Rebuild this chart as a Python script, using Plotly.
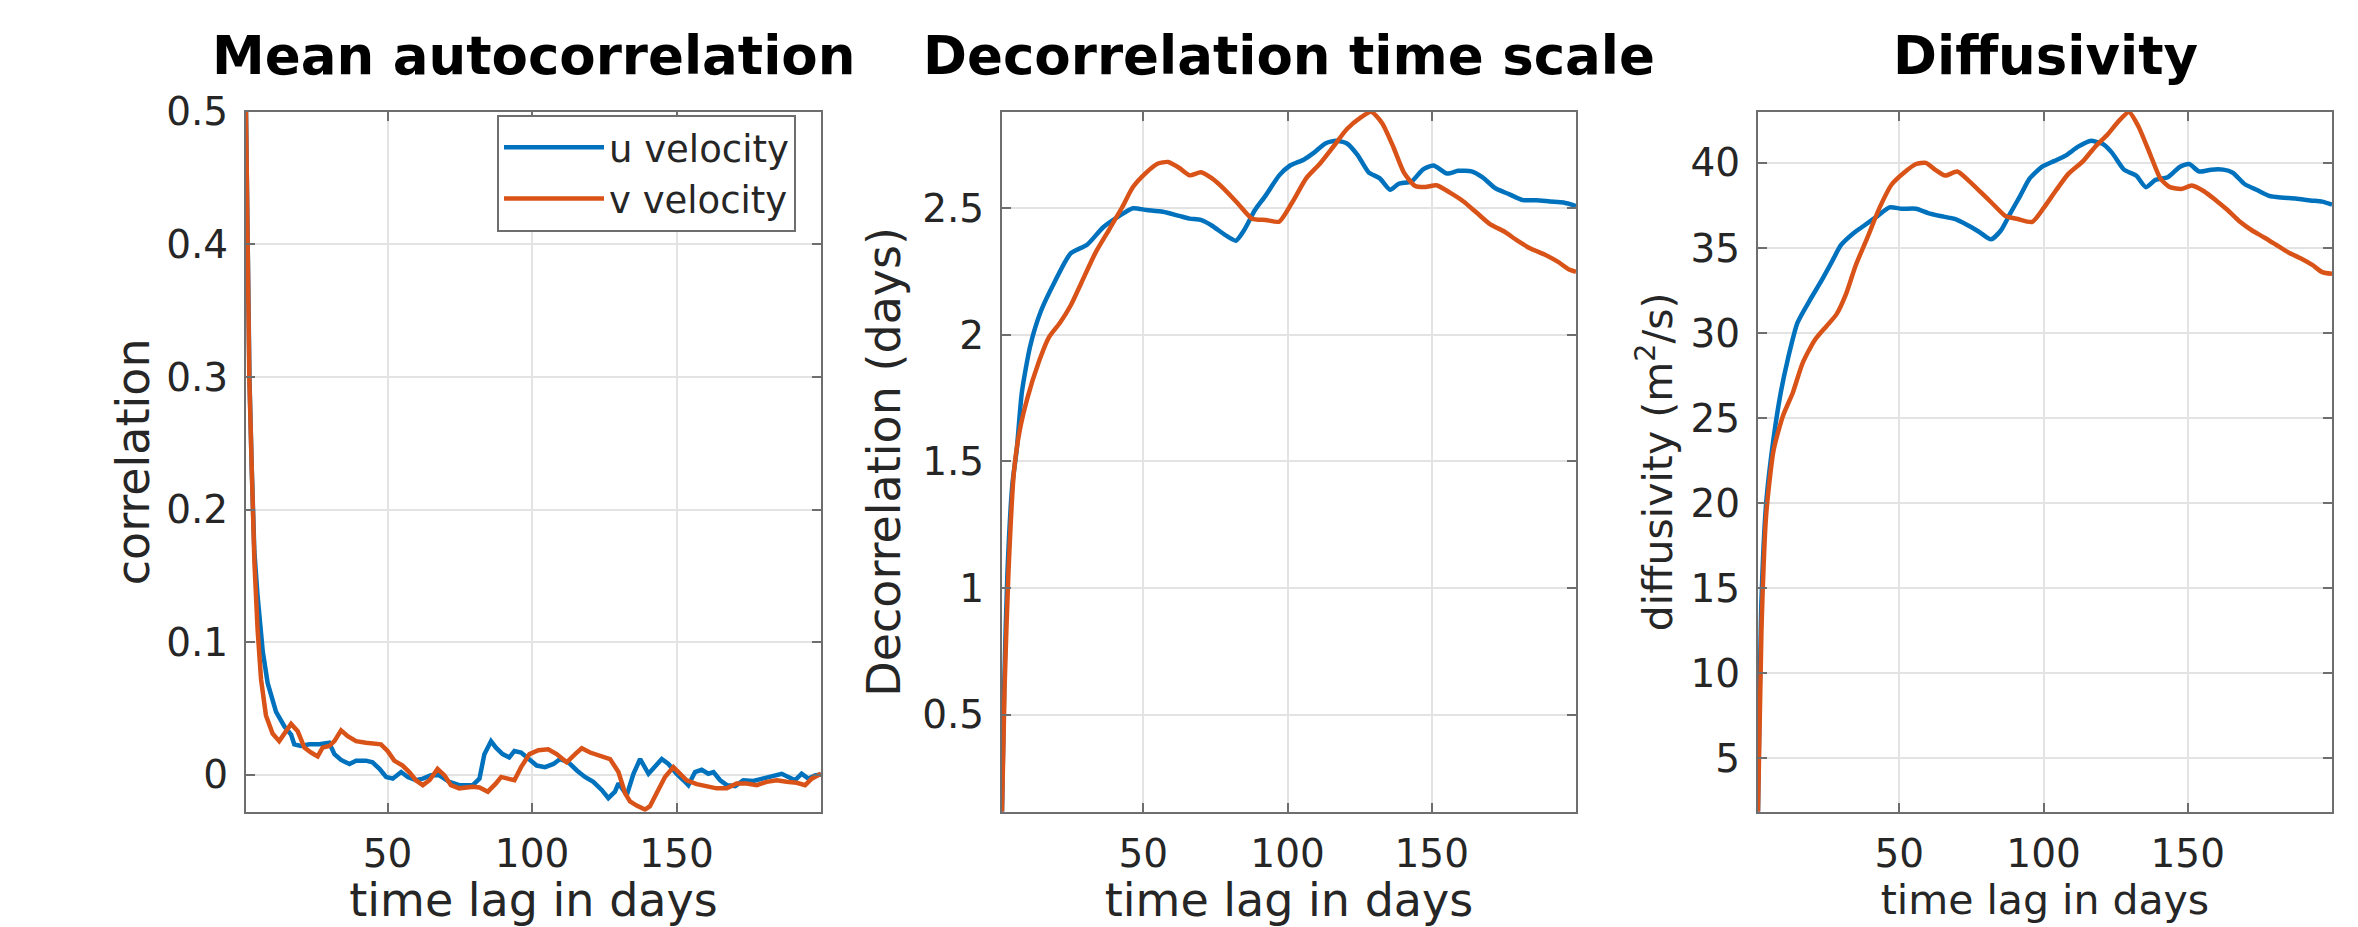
import plotly.graph_objects as go

# ---------------- data ----------------
# Panel 1: mean autocorrelation
ac_u_x = [1, 1.6, 2.2, 3, 3.9, 5, 6.8, 8.5, 9.1, 11.4, 14.3, 16.6, 17.7, 20.0, 22.9, 26.4, 29.8, 31.6, 33.9,
          36.8, 39.1, 42.5, 44.8, 47.2, 49.5, 51.8, 54.7, 57.0, 59.8, 62.2, 65.0, 67.9, 71.4, 74.8, 79.5,
          81.8, 83.5, 85.8, 87.5, 89.8, 92.1, 93.9, 96.2, 99.1, 101.6, 104.5, 107.4, 109.7, 112.6, 115.5,
          118.3, 121.2, 124.1, 126.4, 128.7, 129.9, 132.8, 135.1, 137.4, 140.3, 142.6, 144.9, 147.2, 150.0,
          152.4, 154.1, 156.4, 158.7, 161.0, 162.8, 165.1, 167.4, 170.3, 173.1, 176.6, 180.1, 183.5, 186.4,
          188.7, 191.0, 193.3, 195.6, 197.9, 200]
ac_u_y = [0.5, 0.368, 0.299, 0.23, 0.168, 0.135, 0.093, 0.069, 0.064, 0.0474, 0.0364, 0.0302, 0.0229, 0.0216,
          0.0229, 0.0229, 0.0241, 0.0155, 0.0111, 0.0081, 0.0106, 0.0106, 0.0093, 0.0044, -0.0017, -0.003,
          0.002, -0.0017, -0.0042, -0.003, -0.0005, -0.0005, -0.0054, -0.0079, -0.0079, -0.003, 0.0155,
          0.0253, 0.0204, 0.0155, 0.013, 0.0179, 0.0167, 0.0118, 0.0069, 0.0057, 0.0081, 0.0118, 0.0093,
          0.0032, -0.0017, -0.0054, -0.0115, -0.0177, -0.0128, -0.0066, -0.0152, 0.0007, 0.0118, 0.0007,
          0.0069, 0.0118, 0.0081, 0.0007, -0.0042, -0.0079, 0.002, 0.0037, 0.0007, 0.002, -0.0042, -0.0079,
          -0.0086, -0.0042, -0.0047, -0.003, -0.0005, 0.0007, -0.0017, -0.0042, 0.0007, -0.003, -0.0005, 0.0002]
ac_v_x = [1, 1.6, 2.15, 3, 3.9, 5, 6.2, 7.9, 10.2, 12.5, 14.3, 16.6, 18.9, 21.2, 23.5, 25.8, 27.5, 29.8, 31.6,
          33.9, 36.2, 39.1, 42.5, 47.7, 50.0, 52.3, 55.2, 57.5, 59.8, 62.2, 64.5, 67.3, 69.7, 71.9, 74.8,
          79.5, 81.8, 84.7, 87.5, 89.3, 91.6, 93.9, 96.2, 99.1, 102.2, 105.6, 108.5, 112.0, 114.9, 117.2,
          120.1, 123.5, 127.0, 129.9, 132.2, 133.9, 136.2, 139.1, 140.8, 143.1, 146.0, 148.9, 151.2, 153.5,
          157.0, 160.5, 163.9, 167.4, 170.8, 174.3, 177.8, 181.2, 184.7, 188.1, 191.6, 194.5, 196.8, 200]
ac_v_y = [0.5, 0.368, 0.299, 0.23, 0.161, 0.11, 0.072, 0.0447, 0.031, 0.0253, 0.0315, 0.0383, 0.0327, 0.0204,
          0.0167, 0.0138, 0.0204, 0.0216, 0.0253, 0.0334, 0.029, 0.0253, 0.0241, 0.0229, 0.0179, 0.0106,
          0.0069, 0.002, -0.0042, -0.0079, -0.0042, 0.0044, -0.0005, -0.0079, -0.0103, -0.0091, -0.0096,
          -0.0128, -0.0066, -0.0017, -0.003, -0.0042, 0.0057, 0.0155, 0.0184, 0.0192, 0.0155, 0.0093, 0.0155,
          0.0199, 0.0167, 0.0147, 0.0118, 0.002, -0.014, -0.0201, -0.0233, -0.0263, -0.0238, -0.014, -0.0017,
          0.0057, 0.0007, -0.0042, -0.0071, -0.0086, -0.0103, -0.0103, -0.0066, -0.0066, -0.0079, -0.0054,
          -0.0042, -0.0054, -0.0061, -0.0079, -0.003, 0.0007]

# Panel 2: decorrelation time scale (days)
dt_u_x = [1, 1.75, 2.9, 4.6, 6.1, 7.9, 10.8, 14.5, 19.2, 24.8, 30.5, 36.1, 41.7, 46.4, 51.1, 56.8, 62.4, 66.1,
          69.9, 73.7, 78.3, 82.1, 84.9, 88.7, 92.4, 97.1, 100.9, 105.6, 109.3, 113.1, 116.8, 120.6, 124.3,
          128.1, 131.9, 135.6, 138.4, 143.1, 146.9, 150.6, 155.3, 159.1, 163.8, 167.5, 172.2, 176.9, 181.6,
          186.3, 191.0, 195.7, 200]
dt_u_y = [0.116, 0.61, 1.066, 1.41, 1.546, 1.774, 1.957, 2.094, 2.208, 2.322, 2.356, 2.425, 2.47, 2.5, 2.493,
          2.486, 2.47, 2.459, 2.454, 2.432, 2.395, 2.372, 2.413, 2.493, 2.55, 2.63, 2.669, 2.692, 2.721, 2.756,
          2.767, 2.756, 2.71, 2.642, 2.619, 2.573, 2.596, 2.607, 2.653, 2.669, 2.637, 2.648, 2.646, 2.623,
          2.578, 2.555, 2.532, 2.532, 2.527, 2.523, 2.509]
dt_v_x = [1, 1.9, 3.25, 5.1, 7.0, 9.8, 13.6, 17.3, 21.1, 24.8, 28.6, 33.3, 38.0, 42.7, 46.4, 51.1, 54.9, 58.6,
          62.4, 66.1, 69.9, 73.7, 78.3, 83.0, 87.7, 92.4, 97.1, 101.8, 106.5, 111.2, 115.9, 120.6, 125.3,
          129.0, 132.8, 136.6, 140.3, 144.1, 147.8, 151.6, 156.3, 161.0, 165.6, 170.3, 175.0, 179.7, 184.4,
          189.1, 193.8, 197.6, 200]
dt_v_y = [0.116, 0.61, 1.066, 1.454, 1.614, 1.75, 1.888, 1.991, 2.048, 2.116, 2.208, 2.322, 2.413, 2.505,
          2.584, 2.642, 2.676, 2.683, 2.66, 2.63, 2.642, 2.619, 2.573, 2.516, 2.459, 2.454, 2.447, 2.527,
          2.619, 2.676, 2.744, 2.813, 2.858, 2.881, 2.836, 2.744, 2.642, 2.589, 2.584, 2.591, 2.562, 2.527,
          2.482, 2.436, 2.409, 2.372, 2.34, 2.317, 2.288, 2.258, 2.249]

# Panel 3: diffusivity (m^2/s)
df_u_x = [1, 2.2, 3.85, 6.4, 8.9, 11.4, 14.7, 18.9, 23.1, 26.5, 29.8, 34.0, 38.2, 42.4, 46.6, 50.8, 55.8, 60.0,
          64.2, 69.2, 73.4, 77.6, 81.8, 85.2, 88.5, 91.9, 95.2, 99.4, 103.6, 107.8, 112.0, 116.2, 120.4,
          123.7, 127.9, 132.1, 135.5, 138.8, 143.0, 147.2, 150.5, 153.9, 158.1, 162.3, 165.6, 169.8, 174.0,
          178.2, 182.4, 187.4, 192.5, 196.6, 200]
df_u_y = [1.84, 14.25, 20.03, 23.8, 26.5, 28.5, 30.6, 31.9, 33.1, 34.15, 35.17, 35.85, 36.36, 36.87, 37.38,
          37.3, 37.3, 37.04, 36.87, 36.7, 36.36, 35.95, 35.5, 36.02, 37.04, 38.06, 39.08, 39.76, 40.1, 40.44,
          40.95, 41.29, 41.12, 40.6, 39.6, 39.25, 38.57, 39.0, 39.15, 39.76, 39.93, 39.49, 39.6, 39.6, 39.42,
          38.74, 38.4, 38.06, 37.96, 37.9, 37.79, 37.72, 37.55]
df_v_x = [1, 2.2, 3.85, 6.4, 9.7, 13.1, 16.4, 20.6, 24.8, 28.2, 31.5, 34.9, 39.1, 43.2, 47.4, 51.6, 55.8, 59.2,
          62.5, 65.9, 70.1, 74.3, 78.5, 82.6, 86.8, 91.0, 96.1, 100.2, 104.4, 108.6, 113.7, 117.9, 122.0,
          126.2, 129.6, 132.9, 137.1, 140.5, 143.8, 148.0, 151.4, 155.6, 159.8, 163.9, 168.1, 172.3, 176.5,
          180.7, 184.9, 189.1, 193.3, 196.6, 200]
df_v_y = [1.84, 12.55, 19.35, 23.1, 25.14, 26.5, 28.2, 29.56, 30.41, 31.09, 32.28, 33.98, 35.68, 37.38, 38.74,
          39.42, 39.93, 40.0, 39.59, 39.25, 39.49, 38.91, 38.23, 37.55, 36.87, 36.7, 36.53, 37.38, 38.4, 39.35,
          40.1, 40.95, 41.63, 42.48, 42.99, 42.14, 40.44, 39.08, 38.57, 38.47, 38.67, 38.33, 37.79, 37.21,
          36.53, 36.02, 35.61, 35.17, 34.73, 34.39, 33.98, 33.57, 33.47]

series_names = ["u velocity", "v velocity"]
x_ticks = [50, 100, 150]
y1_ticks = [0, 0.1, 0.2, 0.3, 0.4, 0.5]
y1_labels = ["0", "0.1", "0.2", "0.3", "0.4", "0.5"]
y2_ticks = [0.5, 1, 1.5, 2, 2.5]
y2_labels = ["0.5", "1", "1.5", "2", "2.5"]
y3_ticks = [5, 10, 15, 20, 25, 30, 35, 40]
titles = ["Mean autocorrelation", "Decorrelation time scale", "Diffusivity"]

# ---------------- style ----------------
BLUE = "#0072BD"
ORANGE = "#D95319"
FONT = "DejaVu Sans"
TXT = "#262626"
LW = 4.5

W, H = 2358, 927
doms = [(246 / W, 821 / W), (1002 / W, 1576 / W), (1758 / W, 2332 / W)]
ydom = ((927 - 809) / H, (927 - 92) / H)

fig = go.Figure()

panels = [
    (ac_u_x, ac_u_y, ac_v_x, ac_v_y, "linear"),
    (dt_u_x, dt_u_y, dt_v_x, dt_v_y, "spline"),
    (df_u_x, df_u_y, df_v_x, df_v_y, "spline"),
]
for i, (ux, uy, vx, vy, shp) in enumerate(panels):
    ax = "" if i == 0 else str(i + 1)
    for xs, ys, col, name in ((ux, uy, BLUE, series_names[0]), (vx, vy, ORANGE, series_names[1])):
        fig.add_trace(go.Scatter(
            x=xs, y=ys, mode="lines", name=name,
            line=dict(color=col, width=LW, shape=shp, smoothing=0.6 if shp == "spline" else None),
            xaxis="x" + ax, yaxis="y" + ax, showlegend=(i == 0),
        ))

common_x = dict(
    range=[1, 200], tickvals=x_ticks, showgrid=True, gridcolor="#e3e3e3", gridwidth=2,
    showline=True, linecolor="#6e6e6e", linewidth=2, mirror="allticks",
    ticks="inside", ticklen=9, tickwidth=2, tickcolor="#6e6e6e",
    tickfont=dict(family=FONT, size=39, color=TXT), zeroline=False,
    ticklabelstandoff=6,
)
common_y = dict(
    showgrid=True, gridcolor="#e3e3e3", gridwidth=2,
    showline=True, linecolor="#6e6e6e", linewidth=2, mirror="allticks",
    ticks="inside", ticklen=9, tickwidth=2, tickcolor="#6e6e6e",
    tickfont=dict(family=FONT, size=39, color=TXT), zeroline=False,
    ticklabelstandoff=8,
)

layout = dict(
    width=W, height=H, margin=dict(l=0, r=0, t=0, b=0),
    paper_bgcolor="white", plot_bgcolor="white",
    font=dict(family=FONT, color=TXT),
    legend=dict(
        x=497 / W, y=(927 - 95) / H, xanchor="left", yanchor="top",
        bgcolor="white", bordercolor="#6e6e6e", borderwidth=2,
        font=dict(family=FONT, size=37, color=TXT), itemwidth=100, tracegroupgap=0,
    ),
)

xt_sizes = [46, 46, 41]
yt_sizes = [46, 46, 41]
ystand = [2, 7, 5]
ytitles = ["correlation", "Decorrelation (days)", "diffusivity (m<sup>2</sup>/s)"]
yranges = [[-0.028, 0.5], [0.116, 2.881], [1.84, 43.0]]
yticks = [(y1_ticks, y1_labels), (y2_ticks, y2_labels), (y3_ticks, [str(v) for v in y3_ticks])]
for i in range(3):
    ax = "" if i == 0 else str(i + 1)
    xa = dict(common_x, domain=list(doms[i]), anchor="y" + ax,
              title=dict(text="time lag in days", font=dict(family=FONT, size=xt_sizes[i], color=TXT), standoff=6))
    ya = dict(common_y, domain=list(ydom), anchor="x" + ax, range=yranges[i],
              tickvals=yticks[i][0], ticktext=yticks[i][1],
              title=dict(text=ytitles[i], font=dict(family=FONT, size=yt_sizes[i], color=TXT), standoff=ystand[i]))
    layout["xaxis" + ax] = xa
    layout["yaxis" + ax] = ya

annotations = []
for i in range(3):
    annotations.append(dict(
        text="<b>" + titles[i] + "</b>", xref="paper", yref="paper",
        x=(doms[i][0] + doms[i][1]) / 2, y=(927 - 34) / H, xanchor="center", yanchor="middle",
        showarrow=False, font=dict(family=FONT, size=53, color="#000000"),
    ))
layout["annotations"] = annotations

fig.update_layout(**layout)
fig.write_html("out.html")
